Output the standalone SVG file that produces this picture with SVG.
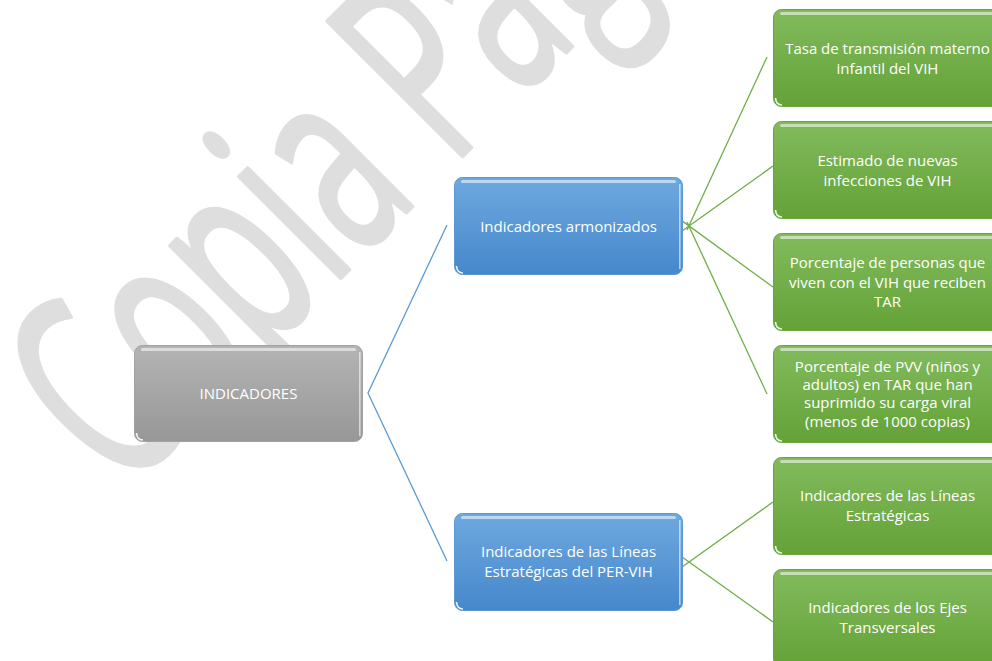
<svg xmlns="http://www.w3.org/2000/svg" width="992" height="661" viewBox="0 0 992 661">
<defs>
<linearGradient id="gGray" x1="0" y1="0" x2="0" y2="1"><stop offset="0" stop-color="#b4b4b4"/><stop offset="1" stop-color="#979797"/></linearGradient>
<linearGradient id="gBlue" x1="0" y1="0" x2="0" y2="1"><stop offset="0" stop-color="#6ea8df"/><stop offset="1" stop-color="#4688cc"/></linearGradient>
<linearGradient id="gGreen" x1="0" y1="0" x2="0" y2="1"><stop offset="0" stop-color="#82bb5e"/><stop offset="1" stop-color="#64a236"/></linearGradient>
</defs>
<style>
.wm{font-family:"Open Sans","Liberation Sans",sans-serif;font-size:266px;fill:#dedede;stroke:#dedede;stroke-width:5px;stroke-linejoin:round;stroke-linecap:round}
.t{font-family:"Open Sans","Liberation Sans",sans-serif;font-size:15px;fill:#ffffff;text-anchor:middle}
.gray{fill:url(#gGray);stroke:#a2a2a2;stroke-width:1}
.blue{fill:url(#gBlue);stroke:#5a98d6;stroke-width:1}
.green{fill:url(#gGreen);stroke:#6aa83f;stroke-width:1}
.hl{fill:#ffffff;opacity:0.55}
.re{fill:#ffffff;opacity:0.6}
.cn{fill:none;stroke:#ffffff;stroke-width:1.6;opacity:0.9}
.lb{fill:none;stroke:#5b9bd5;stroke-width:1.3}
.lg{fill:none;stroke:#70ad47;stroke-width:1.3}
</style>
<rect width="992" height="661" fill="#ffffff"/>
<text class="wm" transform="rotate(-45) scale(0.6,1)" x="-440" y="437">Copia Pág</text>

<g id="connectors">
<polyline class="lb" points="447,225 368,393 447,561"/>
<line class="lg" x1="767" y1="57" x2="687" y2="230"/>
<line class="lg" x1="773" y1="166" x2="681" y2="231.8"/>
<line class="lg" x1="773" y1="287" x2="681" y2="220.1"/>
<line class="lg" x1="767" y1="394" x2="687" y2="222"/>
<line class="lg" x1="773" y1="502" x2="681" y2="567.7"/>
<line class="lg" x1="773" y1="622" x2="681" y2="556.3"/>
</g>

<g id="n-indicadores">
<rect class="gray" x="134.5" y="345.5" width="228" height="96" rx="8"/>
<rect class="hl" x="141" y="348" width="215" height="3" rx="1.5"/>
<rect class="re" x="359" y="352" width="1.6" height="84"/>
<path class="cn" d="M136.5,433 Q137,440 143,440"/>
<text class="t" x="248.5" y="399">INDICADORES</text>
</g>

<g id="n-armonizados">
<rect class="blue" x="454.5" y="177.5" width="228" height="97" rx="8"/>
<rect class="hl" x="461" y="180" width="215" height="3" rx="1.5"/>
<rect class="re" x="679" y="184" width="1.6" height="85"/>
<path class="cn" d="M456.5,266 Q457,273 463,273"/>
<text class="t" x="568.5" y="231.5">Indicadores armonizados</text>
</g>

<g id="n-lineas-per">
<rect class="blue" x="454.5" y="513.5" width="228" height="97" rx="8"/>
<rect class="hl" x="461" y="516" width="215" height="3" rx="1.5"/>
<rect class="re" x="679" y="520" width="1.6" height="85"/>
<path class="cn" d="M456.5,602 Q457,609 463,609"/>
<text class="t" x="568.5" y="557.3">Indicadores de las Líneas</text>
<text class="t" x="568.5" y="576.8">Estratégicas del PER-VIH</text>
</g>

<g id="n-tasa">
<rect class="green" x="773.5" y="9.5" width="228" height="97" rx="8"/>
<rect class="hl" x="780" y="12" width="215" height="3" rx="1.5"/>
<path class="cn" d="M775.5,98 Q776,105 782,105"/>
<text class="t" x="887.5" y="54">Tasa de transmisión materno</text>
<text class="t" x="887.5" y="73.5">infantil del VIH</text>
</g>

<g id="n-estimado">
<rect class="green" x="773.5" y="121.5" width="228" height="97" rx="8"/>
<rect class="hl" x="780" y="124" width="215" height="3" rx="1.5"/>
<path class="cn" d="M775.5,210 Q776,217 782,217"/>
<text class="t" x="887.5" y="166.3">Estimado de nuevas</text>
<text class="t" x="887.5" y="185.8">infecciones de VIH</text>
</g>

<g id="n-porcentaje-tar">
<rect class="green" x="773.5" y="233.5" width="228" height="97" rx="8"/>
<rect class="hl" x="780" y="236" width="215" height="3" rx="1.5"/>
<path class="cn" d="M775.5,322 Q776,329 782,329"/>
<text class="t" x="887.5" y="268">Porcentaje de personas que</text>
<text class="t" x="887.5" y="287.5">viven con el VIH que reciben</text>
<text class="t" x="887.5" y="307">TAR</text>
</g>

<g id="n-pvv">
<rect class="green" x="773.5" y="345.5" width="228" height="97" rx="8"/>
<rect class="hl" x="780" y="348" width="215" height="3" rx="1.5"/>
<path class="cn" d="M775.5,434 Q776,441 782,441"/>
<text class="t" x="887.5" y="371.5">Porcentaje de PVV (niños y</text>
<text class="t" x="887.5" y="389.8">adultos) en TAR que han</text>
<text class="t" x="887.5" y="408.2">suprimido su carga viral</text>
<text class="t" x="887.5" y="426.5">(menos de 1000 copias)</text>
</g>

<g id="n-lineas">
<rect class="green" x="773.5" y="457.5" width="228" height="97" rx="8"/>
<rect class="hl" x="780" y="460" width="215" height="3" rx="1.5"/>
<path class="cn" d="M775.5,546 Q776,553 782,553"/>
<text class="t" x="887.5" y="501.3">Indicadores de las Líneas</text>
<text class="t" x="887.5" y="520.8">Estratégicas</text>
</g>

<g id="n-ejes">
<rect class="green" x="773.5" y="569.5" width="228" height="97" rx="8"/>
<rect class="hl" x="780" y="572" width="215" height="3" rx="1.5"/>
<text class="t" x="887.5" y="613.3">Indicadores de los Ejes</text>
<text class="t" x="887.5" y="632.8">Transversales</text>
</g>
</svg>
